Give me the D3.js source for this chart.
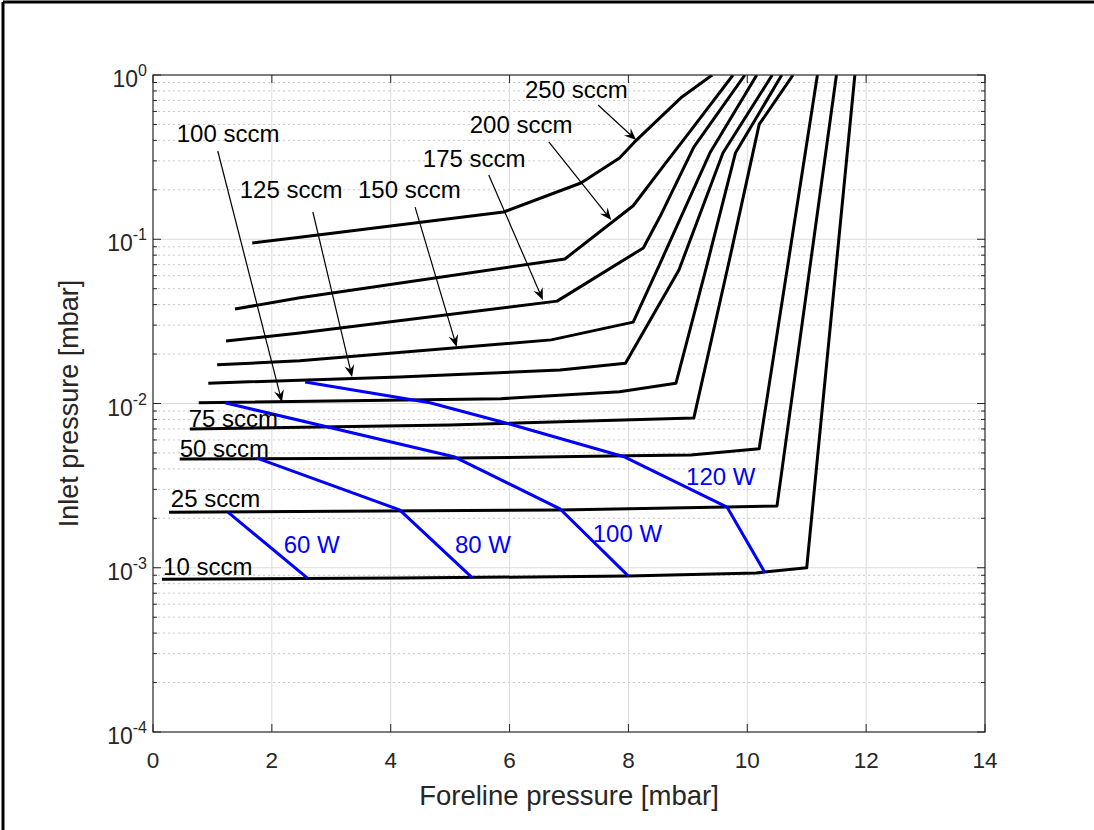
<!DOCTYPE html>
<html>
<head>
<meta charset="utf-8">
<script src="https://cdn.jsdelivr.net/npm/d3@7"></script>
<style>
body { margin: 0; background: #fff; }
text { font-family: "Liberation Sans", Arial, sans-serif; }
</style>
</head>
<body>
<div id="chart"></div>
<script>
var width = 1094;
var height = 830;

// flow curves, [foreline pressure mbar, inlet pressure mbar]
var sccm10 = [[0.15, 8.5e-4], [4.15, 8.65e-4], [8.0, 8.9e-4], [10.15, 9.3e-4], [11.0, 1.0e-3], [11.81, 1.0]];
var sccm25 = [[0.27, 2.18e-3], [6.85, 2.25e-3], [9.65, 2.34e-3], [10.5, 2.38e-3], [11.5, 1.0]];
var sccm50 = [[0.45, 4.6e-3], [5.1, 4.65e-3], [8.0, 4.8e-3], [9.05, 4.85e-3], [10.2, 5.3e-3], [11.18, 1.0]];
var sccm75 = [[0.62, 7.0e-3], [5.0, 7.4e-3], [9.1, 8.15e-3], [9.7, 0.075], [10.2, 0.5], [10.77, 1.0]];
var sccm100 = [[0.77, 0.0101], [5.85, 0.0107], [7.85, 0.0118], [8.8, 0.0133], [9.3, 0.065], [9.8, 0.335], [10.58, 1.0]];
var sccm125 = [[0.93, 0.0133], [4.15, 0.0145], [6.85, 0.016], [7.95, 0.0176], [8.85, 0.065], [9.59, 0.335], [10.42, 1.0]];
var sccm150 = [[1.08, 0.0172], [2.47, 0.0182], [6.7, 0.0244], [8.08, 0.0313], [8.56, 0.075], [9.37, 0.335], [10.16, 1.0]];
var sccm175 = [[1.23, 0.024], [2.47, 0.0269], [6.8, 0.042], [8.25, 0.0885], [8.53, 0.137], [9.1, 0.364], [9.96, 1.0]];
var sccm200 = [[1.38, 0.0376], [2.47, 0.044], [6.93, 0.0758], [8.08, 0.16], [8.6, 0.283], [9.05, 0.46], [9.76, 1.0]];
var sccm250 = [[1.67, 0.095], [2.47, 0.103], [5.9, 0.1465], [7.2, 0.22], [7.85, 0.3125], [8.1, 0.39], [8.9, 0.735], [9.41, 1.0]];

// constant power curves
var watt60 = [[1.26, 2.18e-3], [2.6, 8.65e-4]];
var watt80 = [[1.75, 4.65e-3], [4.15, 2.25e-3], [5.37, 8.7e-4]];
var watt100 = [[1.21, 0.0101], [5.08, 4.72e-3], [6.85, 2.28e-3], [8.0, 8.9e-4]];
var watt120 = [[2.56, 0.0135], [4.66, 0.0101], [6.0, 7.5e-3], [7.94, 4.72e-3], [9.66, 2.34e-3], [10.3, 9.3e-4]];

// labels: text, [x, y] of left end of baseline
var flowNames = ["10 sccm", "25 sccm", "50 sccm", "75 sccm", "100 sccm", "125 sccm", "150 sccm", "175 sccm", "200 sccm", "250 sccm"];
var flowNamePos = [[0.17, 9.03e-4], [0.3, 2.344e-3], [0.45, 4.72e-3], [0.6, 7.19e-3], [0.4, 0.391], [1.46, 0.1783], [3.45, 0.1783], [4.54, 0.2754], [5.33, 0.4435], [6.26, 0.724]];
var powerNames = ["60 W", "80 W", "100 W", "120 W"];
var powerNamePos = [[2.2, 1.23e-3], [5.08, 1.23e-3], [7.4, 1.435e-3], [8.97, 3.19e-3]];

// arrows from label to curve
var arrowFrom = [[1.09, 0.3446], [2.69, 0.1465], [4.41, 0.157], [5.65, 0.246], [6.66, 0.391], [7.49, 0.657]];
var arrowTo = [[2.17, 0.0102], [3.35, 0.0145], [5.11, 0.0221], [6.56, 0.0427], [7.71, 0.131], [8.13, 0.402]];

var xTicks = [0, 2, 4, 6, 8, 10, 12, 14];
var yTicks = [1, 0.1, 0.01, 0.001, 0.0001];
var yExp = ["0", "-1", "-2", "-3", "-4"];

var pL = 153, pR = 985, pT = 75, pB = 732;
var x = d3.scaleLinear().domain([0, 14]).range([pL, pR]);
var y = d3.scaleLog().domain([1e-4, 1]).range([pB, pT]);

var svg = d3.select("#chart").append("svg")
  .attr("width", width)
  .attr("height", height);

// outer frame (top and left only)
svg.append("line").attr("x1", 3).attr("y1", 2).attr("x2", width).attr("y2", 2)
  .attr("stroke", "#000").attr("stroke-width", 3);
svg.append("line").attr("x1", 3).attr("y1", 2).attr("x2", 3).attr("y2", height)
  .attr("stroke", "#000").attr("stroke-width", 3);

svg.append("defs").append("clipPath").attr("id", "clip")
  .append("rect").attr("x", pL).attr("y", pT)
  .attr("width", pR - pL).attr("height", pB - pT);

// minor grid
var minors = [];
for (var e = -4; e < 0; e++) {
  for (var k = 2; k <= 9; k++) minors.push(k * Math.pow(10, e));
}
var grid = svg.append("g");
grid.selectAll(".minor").data(minors).enter().append("line")
  .attr("x1", pL).attr("x2", pR)
  .attr("y1", d => y(d)).attr("y2", d => y(d))
  .attr("stroke", "#c8c8c8").attr("stroke-width", 1)
  .attr("stroke-dasharray", "2,3");
grid.selectAll(".ymaj").data(yTicks.slice(1, 4)).enter().append("line")
  .attr("x1", pL).attr("x2", pR)
  .attr("y1", d => y(d)).attr("y2", d => y(d))
  .attr("stroke", "#dcdcdc").attr("stroke-width", 1);
grid.selectAll(".xmaj").data(xTicks.slice(1, 7)).enter().append("line")
  .attr("x1", d => x(d)).attr("x2", d => x(d))
  .attr("y1", pT).attr("y2", pB)
  .attr("stroke", "#dcdcdc").attr("stroke-width", 1);

// curves
var line = d3.line().x(d => x(d[0])).y(d => y(d[1]));
var flows = [sccm10, sccm25, sccm50, sccm75, sccm100, sccm125, sccm150, sccm175, sccm200, sccm250];
var powers = [watt60, watt80, watt100, watt120];

var plot = svg.append("g").attr("clip-path", "url(#clip)");
plot.selectAll(".flow").data(flows).enter().append("path")
  .attr("d", line)
  .attr("fill", "none").attr("stroke", "#000").attr("stroke-width", 3)
  .attr("stroke-linejoin", "round");
plot.selectAll(".power").data(powers).enter().append("path")
  .attr("d", line)
  .attr("fill", "none").attr("stroke", "#0000ff").attr("stroke-width", 3)
  .attr("stroke-linejoin", "round");

// axis box and ticks
var axc = "#262626";
svg.append("rect").attr("x", pL).attr("y", pT)
  .attr("width", pR - pL).attr("height", pB - pT)
  .attr("fill", "none").attr("stroke", axc).attr("stroke-width", 1.2);

var ticks = svg.append("g").attr("stroke", axc).attr("stroke-width", 1);
xTicks.forEach(function(t) {
  ticks.append("line").attr("x1", x(t)).attr("x2", x(t)).attr("y1", pB).attr("y2", pB - 8);
  ticks.append("line").attr("x1", x(t)).attr("x2", x(t)).attr("y1", pT).attr("y2", pT + 8);
});
yTicks.forEach(function(t) {
  ticks.append("line").attr("x1", pL).attr("x2", pL + 8).attr("y1", y(t)).attr("y2", y(t));
  ticks.append("line").attr("x1", pR).attr("x2", pR - 8).attr("y1", y(t)).attr("y2", y(t));
});
minors.forEach(function(t) {
  ticks.append("line").attr("x1", pL).attr("x2", pL + 4).attr("y1", y(t)).attr("y2", y(t));
  ticks.append("line").attr("x1", pR).attr("x2", pR - 4).attr("y1", y(t)).attr("y2", y(t));
});

// tick labels
svg.selectAll(".xt").data(xTicks).enter().append("text")
  .attr("x", d => x(d)).attr("y", pB + 36)
  .attr("text-anchor", "middle").attr("font-size", 22.5).attr("fill", axc)
  .text(d => d);

var yl = svg.selectAll(".yt").data(yTicks).enter().append("text")
  .attr("x", pL - 6).attr("y", d => y(d) + 12)
  .attr("text-anchor", "end").attr("font-size", 23).attr("fill", axc);
yl.append("tspan").text("10");
yl.append("tspan").attr("dy", -11).attr("font-size", 16).text((d, i) => yExp[i]);

// axis labels
svg.append("text").attr("x", (pL + pR) / 2).attr("y", 805)
  .attr("text-anchor", "middle").attr("font-size", 27.5).attr("fill", axc)
  .text("Foreline pressure [mbar]");
svg.append("text").attr("transform", "translate(78," + (pT + pB) / 2 + ") rotate(-90)")
  .attr("text-anchor", "middle").attr("font-size", 27).attr("fill", axc)
  .text("Inlet pressure [mbar]");

// curve labels
svg.selectAll(".fl").data(flowNames).enter().append("text")
  .attr("x", (d, i) => x(flowNamePos[i][0])).attr("y", (d, i) => y(flowNamePos[i][1]))
  .attr("font-size", 24).attr("fill", "#000")
  .text(d => d);
svg.selectAll(".pl").data(powerNames).enter().append("text")
  .attr("x", (d, i) => x(powerNamePos[i][0])).attr("y", (d, i) => y(powerNamePos[i][1]))
  .attr("font-size", 24).attr("fill", "#0000ff")
  .text(d => d);

// arrows
var arrows = svg.append("g");
arrowFrom.forEach(function(a, i) {
  var b = arrowTo[i];
  var x1 = x(a[0]), y1 = y(a[1]), x2 = x(b[0]), y2 = y(b[1]);
  var ang = Math.atan2(y2 - y1, x2 - x1);
  var L = 12, w = 5;
  var ca = Math.cos(ang), sa = Math.sin(ang);
  arrows.append("line").attr("x1", x1).attr("y1", y1)
    .attr("x2", x2 - ca * 6).attr("y2", y2 - sa * 6)
    .attr("stroke", "#000").attr("stroke-width", 1.2);
  var pts = [
    [x2, y2],
    [x2 - ca * L - sa * w, y2 - sa * L + ca * w],
    [x2 - ca * L * 0.65, y2 - sa * L * 0.65],
    [x2 - ca * L + sa * w, y2 - sa * L - ca * w]
  ];
  arrows.append("path").attr("d", "M" + pts.join("L") + "Z").attr("fill", "#000");
});
</script>
</body>
</html>
